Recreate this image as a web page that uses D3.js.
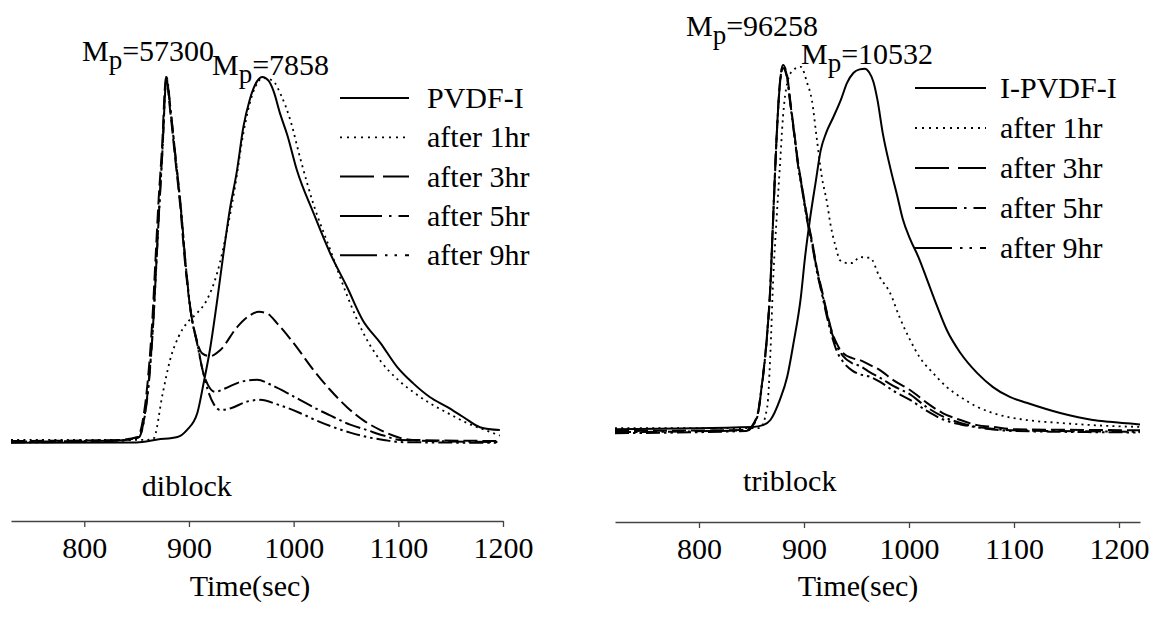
<!DOCTYPE html>
<html><head><meta charset="utf-8">
<script src="https://cdn.jsdelivr.net/npm/d3@7"></script>
<style>
body{margin:0;background:#fff}
text{font-family:"Liberation Serif","Times New Roman",serif;fill:#000}
</style>
</head><body>
<svg id="chart" width="1149" height="618"></svg>
<script>
// ---------------- data ----------------
const timeTicks = [800, 900, 1000, 1100, 1200];
const seriesKeys = ["base", "h1", "h3", "h5", "h9"];
const diblockNames = ["PVDF-I", "after 1hr", "after 3hr", "after 5hr", "after 9hr"];
const triblockNames = ["I-PVDF-I", "after 1hr", "after 3hr", "after 5hr", "after 9hr"];
const panelTitles = ["diblock", "triblock"];
const axisTitle = "Time(sec)";

// diblock (left) — [time (s), relative intensity]
const diBase = [[730,-0.5],[850,-0.4],[870,0.4],[889,1.1],[898,3],[908,7.7],[914,15.9],[920,25],[927,38.7],[933,51.6],[939,63.5],[946,74.5],[952,86.3],[958,93.7],[965,98.8],[970,100],[976,99],[981,96],[987,90],[994,84],[1003,74.5],[1019,62.6],[1035,51.5],[1051,42.3],[1066,33.2],[1083,26.9],[1099,20.3],[1114,15.9],[1130,12.1],[1147,9.3],[1162,6.6],[1178,3.8],[1197,3]];
const di1h = [[730,0.3],[860,0.3],[866,0.6],[875,13.2],[882,22.3],[890,28.6],[898,32.4],[908,35.2],[917,38.7],[927,46.2],[937,58.8],[944,69.8],[952,84.6],[961,95.6],[971,99.7],[980,99],[988,95],[997,88],[1006,78],[1019,65],[1035,52.5],[1051,40],[1066,30],[1083,22],[1099,17],[1114,13.5],[1130,10.4],[1147,7.7],[1166,4.9],[1185,2.8],[1197,1.5]];
const di3h = [[730,0],[834,0.3],[851,1.1],[856,5.8],[861,17.6],[865,33.2],[868,49.7],[871,66.2],[874.5,81.9],[877,97],[878,100],[882,90.9],[887,77.2],[892,63.5],[896,49.7],[901,37],[907,28],[913,24],[920,23.3],[930,25],[946,31.3],[958,34.5],[967,35.5],[975,35],[984,32.4],[1000,26.9],[1019,19.5],[1035,14],[1051,9.3],[1066,5.8],[1083,3],[1099,1.1],[1114,0.3],[1197,0]];
const di5h = [[730,-0.2],[836,0.2],[852,1.1],[857,5.8],[862,17.6],[866,33.2],[869,49.7],[872,66.2],[875,81.9],[877.5,97],[878.5,100],[882.5,90.9],[887.5,77.2],[892.5,63.5],[896.5,49.7],[901.5,36],[908,26.9],[913,19.5],[918,15.5],[925,13.5],[935,14.5],[950,16.3],[965,16.8],[980,15.2],[995,13],[1006,11.3],[1022,8.8],[1038,6.6],[1054,4.5],[1070,3],[1086,1.5],[1102,0.3],[1197,-0.3]];
const di9h = [[730,-0.4],[836,0.1],[852,1],[857,5.5],[862,17],[866,33],[869,49.5],[872,66],[875,81.5],[877.5,97],[878.5,99.5],[882.5,90.5],[887.5,77],[892.5,63],[896.5,49.5],[901.5,36],[908,26.5],[913,19.5],[918,14],[924,10],[930,8.5],[940,9],[955,10.8],[968,11.3],[985,10],[1006,7.7],[1022,5.6],[1038,3.8],[1054,2.3],[1070,1.1],[1086,0.3],[1102,-0.3],[1197,-0.5]];

// triblock (right)
const triBase = [[720,0.5],[851,1.1],[861,1.6],[868,3],[877,8.5],[884,14.8],[890,24],[897,36.6],[901,47.5],[906,58.5],[911,67.8],[916,76.8],[921,81.4],[928,85.8],[935,90.4],[941,95.1],[947,97.8],[953,98.8],[958,99],[962,98],[966,95.5],[970,90.4],[975,81.4],[982,72.1],[989,64],[994,58],[1001,52.5],[1009,47.5],[1017,41.5],[1027,33.9],[1036,27.6],[1049,21.3],[1065,15.8],[1080,12],[1096,9.3],[1112,7.7],[1144,4.9],[1175,3],[1191,2.5],[1220,1.8]];
const tri1h = [[720,0.8],[858,0.8],[865,6.6],[868,21.3],[870.5,40.4],[874,58.5],[877,72.1],[880,85.8],[884,95.1],[889.5,98.6],[897,99.5],[903,95.1],[907.5,90.4],[912,80.3],[917,69.4],[922,62.3],[925,56.8],[931,49.5],[934,46.7],[941,45.9],[946,45.9],[953,47.5],[963,47.3],[972,42.1],[982,37.7],[991,31.1],[1001,24.9],[1010,20.2],[1023,15.8],[1036,12],[1049,9.3],[1065,6.6],[1080,4.9],[1112,3],[1144,2.2],[1175,1.6],[1220,1.1]];
const tri3h = [[720,0],[845,0.3],[855,3.8],[860,13],[865,27],[868,40],[870,54],[872,68],[874,81],[877,95],[880,100],[884,97],[887,90],[891,81],[894,74],[898,67],[903,58.5],[908,51.4],[912,44.8],[917,38.5],[922,32.2],[927,26.8],[931,24],[937,21.3],[946,19.9],[953,19.4],[963,18],[972,16.7],[985,13.9],[1001,11.2],[1017,7.7],[1032,4.9],[1049,3],[1065,1.6],[1080,1.1],[1100,0.5],[1220,0.2]];
const tri5h = [[720,-0.3],[845,0.2],[855,3.6],[860,12.8],[865,26.8],[868,39.8],[870,53.8],[872,67.8],[874,80.8],[877,94.8],[880,99.6],[884,96.6],[887,89.6],[891,80.6],[894,73.6],[898,66.6],[903,58],[908,51],[912,44.5],[917,38],[922,31.8],[927,26.4],[931,23.4],[937,20.5],[946,18.5],[953,17.8],[963,16],[972,14.6],[985,12.3],[1001,10],[1017,6.5],[1032,4],[1049,2.2],[1065,1.1],[1080,0.6],[1100,0.2],[1220,-0.2]];
const tri9h = [[720,-0.6],[845,0],[855,3.4],[860,12.5],[865,26.5],[868,39.5],[870,53.5],[872,67.5],[874,80.5],[877,94.5],[880,99.2],[884,96.2],[887,89.2],[891,80.2],[894,73.2],[898,66.2],[903,57.5],[908,50.5],[912,44],[917,37.5],[922,31],[927,25.5],[931,22],[937,19],[946,16.5],[953,15.5],[963,14.8],[972,13.5],[985,11],[1001,8.5],[1017,5.5],[1032,3.2],[1049,1.8],[1065,1],[1080,0.4],[1100,0],[1220,-0.4]];

const diPeaks = ["57300", "7858"];
const triPeaks = ["96258", "10532"];

// ---------------- drawing ----------------
const svg = d3.select("#chart");
const FONT = 30;
const dashes = {base: null, h1: "2,4.2", h3: "14,5", h5: "16,4,2.5,4", h9: "14,4,2.5,4,2.5,4"};
const legendDashes = {base: null, h1: "2,5", h3: "34,9", h5: "42,7,2.5,7,30", h9: "37,8,2.5,7,2.5,8,30"};

const panels = [
  {series: [diBase, di1h, di3h, di5h, di9h], names: diblockNames, title: panelTitles[0], peaks: diPeaks,
   x: d3.scaleLinear().domain([730, 1200]).range([11, 503]),
   y: d3.scaleLinear().domain([0, 100]).range([441, 77]),
   axisY: 521,
   legend: {x1: 340, x2: 409, tx: 427, y0: 98, dy: 39.3},
   peakAnchors: [{t: 797.8, v: 104.4}, {t: 922, v: 100.5}],
   titlePos: {t: 855, v: -15}, axisTitleX: 250},
  {series: [triBase, tri1h, tri3h, tri5h, tri9h], names: triblockNames, title: panelTitles[1], peaks: triPeaks,
   x: d3.scaleLinear().domain([720, 1220]).range([615, 1140]),
   y: d3.scaleLinear().domain([0, 100]).range([431, 65]),
   axisY: 522,
   legend: {x1: 915, x2: 986, tx: 1000, y0: 88, dy: 40},
   peakAnchors: [{t: 787.6, v: 107.8}, {t: 897.1, v: 100.3}],
   titlePos: {t: 842, v: -16.5}, axisTitleX: 858}
];

panels.forEach(p => {
  const g = svg.append("g");
  const line = d3.line().x(d => p.x(d[0])).y(d => p.y(d[1])).curve(d3.curveMonotoneX);

  seriesKeys.slice().reverse().forEach(k => {
    const i = seriesKeys.indexOf(k);
    g.append("path").datum(p.series[i])
      .attr("d", line).attr("fill", "none").attr("stroke", "#000")
      .attr("stroke-width", k === "h1" ? 1.8 : 2)
      .attr("stroke-dasharray", dashes[k]);
  });

  const ax = g.append("g").attr("transform", `translate(0,${p.axisY})`)
    .call(d3.axisBottom(p.x).tickValues(timeTicks).tickSize(6).tickSizeOuter(0).tickPadding(10).tickFormat(d3.format("d")));
  ax.select(".domain").attr("stroke", "#444").attr("stroke-width", 1.3);
  ax.selectAll(".tick line").attr("stroke", "#444").attr("stroke-width", 1.3);
  ax.selectAll(".tick text").attr("font-size", FONT).attr("font-family", "Liberation Serif").attr("fill", "#000");

  g.append("text").attr("x", p.axisTitleX).attr("y", 596).attr("text-anchor", "middle")
    .attr("font-size", FONT).text(axisTitle);

  g.append("text").attr("x", p.x(p.titlePos.t)).attr("y", p.y(p.titlePos.v))
    .attr("font-size", FONT).text(p.title);

  seriesKeys.forEach((k, i) => {
    const yy = p.legend.y0 + i * p.legend.dy;
    g.append("line").attr("x1", p.legend.x1).attr("x2", p.legend.x2).attr("y1", yy).attr("y2", yy)
      .attr("stroke", "#000").attr("stroke-width", k === "h1" ? 1.8 : 2)
      .attr("stroke-dasharray", legendDashes[k]);
    g.append("text").attr("x", p.legend.tx).attr("y", yy + 10).attr("font-size", FONT).text(p.names[i]);
  });

  p.peaks.forEach((val, i) => {
    const a = p.peakAnchors[i];
    const t = g.append("text").attr("x", p.x(a.t)).attr("y", p.y(a.v)).attr("font-size", FONT);
    t.append("tspan").text("M");
    t.append("tspan").attr("dy", 8).attr("font-size", 27).text("p");
    t.append("tspan").attr("dy", -8).text("=" + val);
  });
});
</script>
</body></html>
